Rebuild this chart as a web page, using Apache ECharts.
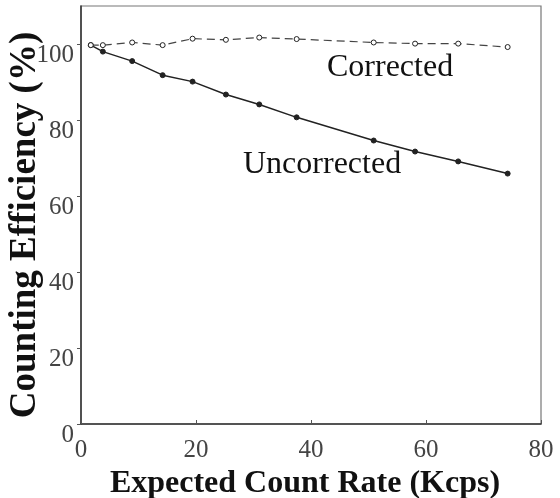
<!DOCTYPE html>
<html>
<head>
<meta charset="utf-8">
<script src="https://cdn.jsdelivr.net/npm/echarts@6/dist/echarts.min.js"></script>
<style>
  html, body { margin: 0; padding: 0; background: #fff; }
  #chart { width: 560px; height: 498px; }
</style>
</head>
<body>
<div id="chart"></div>
<script>
// Expected count rate (Kcps) at each measurement
const rateCorrected = [1.7, 3.8, 8.9, 14.2, 19.4, 25.2, 31.0, 37.5, 50.9, 58.1, 65.6, 74.2];
const effCorrected = [99.7, 99.7, 100.4, 99.7, 101.4, 101.1, 101.7, 101.3, 100.4, 100.1, 100.1, 99.2];

const rateUncorrected = [1.7, 3.8, 8.9, 14.2, 19.4, 25.2, 31.0, 37.5, 50.9, 58.1, 65.6, 74.2];
const effUncorrected = [99.7, 98.0, 95.5, 91.8, 90.1, 86.7, 84.1, 80.7, 74.6, 71.7, 69.1, 65.9];

const xTicks = [0, 20, 40, 60, 80];
const yTicks = [0, 20, 40, 60, 80, 100];

const serif = '"Liberation Serif", "Times New Roman", serif';
const ink = '#222';

const pairs = (xs, ys) => xs.map((x, i) => [x, ys[i]]);

const chart = echarts.init(document.getElementById('chart'), null, { renderer: 'canvas' });
chart.setOption({
  animation: false,
  backgroundColor: '#fff',
  grid: {
    left: 81, right: 19, top: 6, bottom: 74,
    outerBoundsMode: 'none', containLabel: false,
    show: true, borderColor: '#777', borderWidth: 1.2, backgroundColor: 'transparent'
  },
  xAxis: {
    type: 'value',
    min: xTicks[0], max: xTicks[xTicks.length - 1], interval: 20,
    name: 'Expected Count Rate (Kcps)',
    nameLocation: 'middle', nameGap: 30,
    nameTextStyle: { fontFamily: serif, fontWeight: 'bold', fontSize: 32, color: '#111',
      padding: [0, 12, 0, 0] },
    axisLine: { show: true, lineStyle: { color: '#333', width: 1.5 } },
    axisTick: { show: true, inside: true, length: 4, lineStyle: { color: '#555' } },
    axisLabel: { fontFamily: serif, fontSize: 25, color: '#444', margin: 14 },
    splitLine: { show: false }
  },
  yAxis: {
    type: 'value',
    min: yTicks[0], max: 110, interval: 20,
    axisLine: { show: true, lineStyle: { color: '#333', width: 1.5 } },
    axisTick: { show: true, length: 4, lineStyle: { color: '#555' } },
    axisLabel: { fontFamily: serif, fontSize: 25, color: '#444', margin: 7, showMaxLabel: false,
      verticalAlign: 'top', lineHeight: 22,
      formatter: v => (yTicks.includes(v) ? String(v) : '') },
    splitLine: { show: false }
  },
  series: [
    {
      name: 'Uncorrected',
      type: 'line',
      data: pairs(rateUncorrected, effUncorrected),
      symbol: 'circle', symbolSize: 5,
      lineStyle: { color: ink, width: 1.5 },
      itemStyle: { color: ink, borderColor: ink, borderWidth: 1 },
      z: 2
    },
    {
      name: 'Corrected',
      type: 'line',
      data: pairs(rateCorrected, effCorrected),
      symbol: 'circle', symbolSize: 5,
      lineStyle: { color: '#444', width: 1.2, type: [8, 5] },
      itemStyle: { color: '#fff', borderColor: ink, borderWidth: 1 },
      z: 3
    }
  ],
  graphic: [
    { type: 'text', x: 25, y: 225, rotation: Math.PI / 2,
      style: { text: 'Counting Efficiency (%)', font: 'bold 37px ' + serif, fill: '#111',
        align: 'center', verticalAlign: 'middle' } },
    { type: 'text', x: 327, y: 68,
      style: { text: 'Corrected', font: '32px ' + serif, fill: '#111',
        align: 'left', verticalAlign: 'middle' } },
    { type: 'text', x: 243, y: 165,
      style: { text: 'Uncorrected', font: '32px ' + serif, fill: '#111',
        align: 'left', verticalAlign: 'middle' } }
  ]
});
</script>
</body>
</html>
